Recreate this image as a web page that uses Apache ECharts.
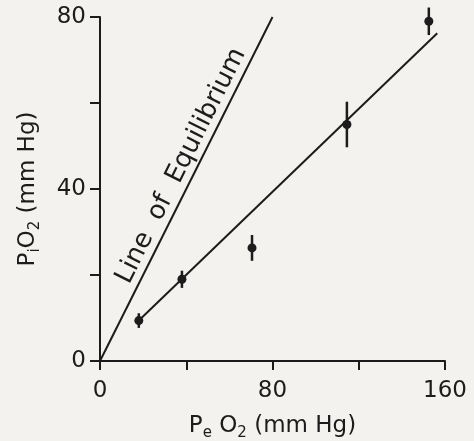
<!DOCTYPE html>
<html><head><meta charset="utf-8">
<script src="https://cdn.jsdelivr.net/npm/echarts@6/dist/echarts.min.js"></script>
<style>html,body{margin:0;padding:0;background:#f4f2ef}#c{width:474px;height:441px}</style>
</head><body><div id="c"></div>
<script>
// Data
const peO2 = [18, 38, 70.5, 114.5, 152.5];
const piO2 = [9.4, 19, 26.3, 55, 79];
const errHalf = [1.7, 2, 3, 5.3, 3.2];
const equilibriumLine = [[0, 0], [80, 80]];
const fitLine = [[18, 9.4], [156.4, 76.2]];
const xTicksShown = [0, 80, 160];
const yTicksShown = [0, 40, 80];

const ink = '#1c1c1c';
const font = 'DejaVu Sans';
const chart = echarts.init(document.getElementById('c'));
const pts = peO2.map((x, i) => [x, piO2[i], errHalf[i]]);

const richName = {
  n: {fontFamily: font, fontSize: 23, color: ink, lineHeight: 30, verticalAlign: 'middle'},
  s: {fontFamily: font, fontSize: 15, color: ink, lineHeight: 30, verticalAlign: 'bottom'}
};

chart.setOption({
  backgroundColor: '#f4f2ef',
  animation: false,
  grid: {left: 100, right: 29, top: 17, bottom: 80, outerBoundsMode: 'none', containLabel: false},
  xAxis: {
    type: 'value', min: 0, max: 160, interval: 40,
    axisLine: {show: true, onZero: false, lineStyle: {color: ink, width: 2}},
    axisTick: {show: true, length: 9, lineStyle: {color: ink, width: 2}},
    splitLine: {show: false},
    axisLabel: {color: ink, fontFamily: font, fontSize: 23, margin: 19,
      formatter: v => xTicksShown.includes(v) ? String(v) : ''},
    name: '{n|P}{s|e}{n| O}{s|2}{n| (mm Hg)}',
    nameLocation: 'middle', nameGap: 50,
    nameTextStyle: {rich: richName}
  },
  yAxis: {
    type: 'value', min: 0, max: 80, interval: 20,
    axisLine: {show: true, onZero: false, lineStyle: {color: ink, width: 2}},
    axisTick: {show: true, length: 10, lineStyle: {color: ink, width: 2}},
    splitLine: {show: false},
    axisLabel: {color: ink, fontFamily: font, fontSize: 23, margin: 14,
      formatter: v => yTicksShown.includes(v) ? String(v) : ''},
    name: '{n|P}{s|i}{n|O}{s|2}{n| (mm Hg)}',
    nameLocation: 'middle', nameGap: 57, nameRotate: 90,
    nameTextStyle: {rich: richName}
  },
  series: [
    {type: 'line', data: equilibriumLine, symbol: 'none', lineStyle: {color: ink, width: 2}, z: 2},
    {type: 'line', data: fitLine, symbol: 'none', lineStyle: {color: ink, width: 2}, z: 2},
    {type: 'custom', data: pts, z: 3,
      renderItem: (params, api) => {
        const x = api.value(0), y = api.value(1), e = api.value(2);
        const c = api.coord([x, y]);
        const lo = api.coord([x, y - e]);
        const hi = api.coord([x, y + e]);
        return {type: 'group', children: [
          {type: 'line', shape: {x1: lo[0], y1: lo[1], x2: hi[0], y2: hi[1]}, style: {stroke: ink, lineWidth: 2.5}},
          {type: 'circle', shape: {cx: c[0], cy: c[1], r: 4.5}, style: {fill: ink}}
        ]};
      }
    }
  ]
});

// label along the line of equilibrium
const a = chart.convertToPixel({gridIndex: 0}, [0, 0]);
const b = chart.convertToPixel({gridIndex: 0}, [80, 80]);
const ang = Math.atan2(a[1] - b[1], b[0] - a[0]);
const mid = chart.convertToPixel({gridIndex: 0}, [43.8, 43.8]);
const off = 15;
chart.setOption({graphic: [{
  type: 'text',
  x: mid[0] - off * Math.sin(ang), y: mid[1] - off * Math.cos(ang),
  rotation: ang,
  style: {text: 'Line  of  Equilibrium', fontFamily: font, fontSize: 26, fill: ink, align: 'center', verticalAlign: 'middle'}
}]});
</script></body></html>
